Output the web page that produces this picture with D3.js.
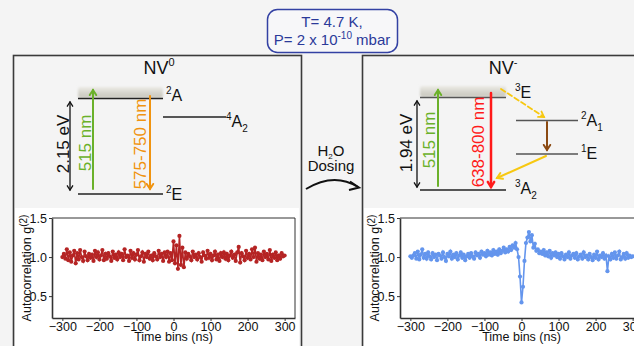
<!DOCTYPE html>
<html>
<head>
<meta charset="utf-8">
<script src="https://cdn.jsdelivr.net/npm/d3@7"></script>
<style>
  body { margin: 0; background: #f4f4f4; }
  svg { display: block; font-family: "Liberation Sans", Arial, sans-serif; }
</style>
</head>
<body>
<div id="chart"></div>
<script>
// time bins (ns)
const timeBins = d3.range(-300, 301, 4);

// NV0 autocorrelation (red)
const nv0Values = [
  1.00, 1.04, 0.98, 1.10, 0.96, 1.06, 0.94, 1.02, 1.08, 0.92,
  1.05, 0.97, 1.09, 1.00, 0.95, 1.07, 1.01, 0.96, 1.04, 0.99,
  1.03, 0.95, 1.08, 1.00, 1.06, 0.97, 1.02, 1.09, 0.96, 1.04,
  0.98, 1.05, 1.01, 0.95, 1.07, 0.99, 1.03, 0.97, 1.06, 1.00,
  1.04, 0.96, 1.10, 1.00, 1.02, 0.95, 1.08, 0.99, 1.05, 0.97,
  1.03, 1.09, 0.96, 1.01, 1.06, 0.94, 1.04, 1.00, 1.07, 0.98,
  1.02, 0.96, 1.05, 1.01, 0.97, 1.08, 1.00, 1.04, 0.95, 1.06,
  1.00, 1.07, 0.94, 1.05, 0.96, 1.20, 0.92, 1.15, 0.85, 1.27,
  0.90, 1.12, 0.87, 1.06, 0.98, 1.04, 1.01, 0.96, 1.07, 1.00,
  1.03, 0.97, 1.05, 1.00, 0.94, 1.06, 1.02, 0.98, 1.08, 0.99,
  1.04, 0.96, 1.02, 1.07, 0.97, 1.03, 0.95, 1.05, 1.00, 1.06,
  0.98, 1.04, 0.96, 1.02, 1.07, 0.99, 1.03, 0.95, 1.06, 1.13,
  0.93, 1.05, 1.01, 0.96, 1.08, 0.99, 1.04, 0.97, 1.10, 1.00,
  1.12, 0.94, 1.05, 0.98, 1.03, 0.96, 1.07, 1.00, 1.04, 0.97,
  1.09, 0.95, 1.03, 0.99, 1.06, 0.96, 1.02, 0.98, 1.05, 1.01,
  1.02
];

// NV- autocorrelation (blue)
const nvmValues = [
  1.01, 0.99, 1.02, 1.05, 0.98, 1.07, 0.97, 1.03, 1.10, 0.99,
  1.04, 0.98, 1.06, 1.01, 0.97, 1.05, 1.00, 1.03, 0.96, 1.04,
  1.02, 0.98, 1.06, 1.00, 0.95, 1.04, 1.01, 1.07, 0.98, 1.03,
  1.00, 1.05, 0.97, 1.02, 1.06, 0.99, 1.03, 0.96, 1.01, 1.04,
  0.99, 1.05, 1.01, 0.98, 1.06, 1.02, 1.04, 0.99, 1.07, 1.03,
  1.05, 1.01, 1.08, 1.03, 1.06, 1.02, 1.09, 1.04, 1.07, 1.03,
  1.10, 1.05, 1.08, 1.12, 1.06, 1.10, 1.07, 1.13, 1.09, 1.15,
  1.12, 1.18, 1.10, 1.00, 0.75, 0.42, 0.62, 0.95, 1.18, 1.25,
  1.32, 1.20, 1.28, 1.12, 1.17, 1.08, 1.10, 1.05, 1.07, 1.04,
  1.09, 1.02, 1.06, 1.01, 1.08, 0.99, 1.05, 1.02, 1.06, 1.00,
  1.04, 0.98, 1.05, 1.01, 0.97, 1.03, 1.00, 1.06, 0.98, 1.02,
  1.04, 0.99, 1.05, 0.97, 1.01, 1.03, 0.98, 1.06, 1.00, 1.02,
  0.97, 1.04, 1.00, 0.96, 1.03, 0.99, 1.07, 0.97, 1.02, 1.00,
  1.05, 0.98, 1.02, 0.82, 1.01, 0.97, 1.04, 0.99, 1.06, 0.98,
  1.02, 1.07, 0.97, 1.00, 1.04, 0.98, 1.05, 0.99, 1.02, 1.00,
  1.01
];

const xTicks = [-300, -200, -100, 0, 100, 200, 300];
const yTicks = [0.5, 1.0, 1.5];

const W = 634, H = 346;
const svg = d3.select('#chart').append('svg')
  .attr('width', W).attr('height', H);

svg.append('rect').attr('width', W).attr('height', H).attr('fill', '#f4f4f4');

const defs = svg.append('defs');
const grad = defs.append('linearGradient').attr('id', 'band')
  .attr('x1', 0).attr('y1', 0).attr('x2', 0).attr('y2', 1);
grad.append('stop').attr('offset', '0%').attr('stop-color', '#ecebe6');
grad.append('stop').attr('offset', '60%').attr('stop-color', '#d3d2ca');
grad.append('stop').attr('offset', '100%').attr('stop-color', '#c9c8bf');
defs.append('filter').attr('id', 'soft')
  .append('feGaussianBlur').attr('stdDeviation', 0.8);

// title box
svg.append('rect')
  .attr('x', 267.5).attr('y', 9.5).attr('width', 130).attr('height', 43)
  .attr('rx', 10)
  .attr('fill', '#f7f7f9').attr('stroke', '#3341a3').attr('stroke-width', 1.5);
svg.append('text').attr('x', 332).attr('y', 27).attr('text-anchor', 'middle')
  .attr('font-size', 15).attr('fill', '#2b3a99').text('T= 4.7 K,');
const pt = svg.append('text').attr('x', 332).attr('y', 45).attr('text-anchor', 'middle')
  .attr('font-size', 15).attr('fill', '#2b3a99');
pt.append('tspan').text('P= 2 x 10');
pt.append('tspan').attr('font-size', 10).attr('dy', -6).text('-10');
pt.append('tspan').attr('dy', 6).text(' mbar');

// panels
function panel(x0, w) {
  svg.append('rect').attr('x', x0 + 2).attr('y', 208).attr('width', w - 4).attr('height', 150)
    .attr('fill', '#ffffff');
  svg.append('rect').attr('x', x0 + 0.5).attr('y', 55.5).attr('width', w).attr('height', 310)
    .attr('fill', 'none').attr('stroke', '#3b3b3b').attr('stroke-width', 1.6);
}
panel(13, 288);
panel(362, 300);

// arrow helper
function arrow(x1, y1, x2, y2, color, width, opts = {}) {
  const g = svg.append('g').attr('stroke', color).attr('stroke-width', width)
    .attr('fill', 'none').attr('stroke-linecap', 'round');
  g.append('line').attr('x1', x1).attr('y1', y1).attr('x2', x2).attr('y2', y2)
    .attr('stroke-dasharray', opts.dash || null);
  const hl = opts.head || 6;
  const head = (hx, hy, ang) => {
    const a1 = ang + Math.PI * 0.82, a2 = ang - Math.PI * 0.82;
    g.append('path')
      .attr('d', `M${hx + hl * Math.cos(a1)},${hy + hl * Math.sin(a1)} L${hx},${hy} L${hx + hl * Math.cos(a2)},${hy + hl * Math.sin(a2)}`)
      .attr('stroke-linejoin', 'miter');
  };
  const ang = Math.atan2(y2 - y1, x2 - x1);
  head(x2, y2, ang);
  if (opts.both) head(x1, y1, ang + Math.PI);
}

function level(x1, x2, y, color) {
  svg.append('line').attr('x1', x1).attr('x2', x2).attr('y1', y).attr('y2', y)
    .attr('stroke', color || '#222').attr('stroke-width', 1.3);
}

function label(x, y, sup, main, sub) {
  const t = svg.append('text').attr('x', x).attr('y', y).attr('font-size', 16).attr('fill', '#111');
  if (sup) t.append('tspan').attr('font-size', 10).attr('dy', -7).text(sup);
  t.append('tspan').attr('dy', sup ? 7 : 0).text(main);
  if (sub) t.append('tspan').attr('font-size', 10).attr('dy', 5).text(sub);
}

function vtext(x, y, txt, color) {
  svg.append('text').attr('transform', `translate(${x},${y}) rotate(-90)`)
    .attr('text-anchor', 'middle').attr('font-size', 17).attr('fill', color).text(txt);
}

function title(x, y, main, sup) {
  const t = svg.append('text').attr('x', x).attr('y', y).attr('text-anchor', 'middle')
    .attr('font-size', 18).attr('fill', '#111');
  t.append('tspan').text(main);
  t.append('tspan').attr('font-size', 11).attr('dy', -8).text(sup);
}

// ---- NV0 diagram ----
title(159, 74, 'NV', '0');
svg.append('rect').attr('x', 78).attr('y', 87).attr('width', 85).attr('height', 11)
  .attr('rx', 2).attr('fill', 'url(#band)').attr('filter', 'url(#soft)');
level(78, 163, 98.5);
level(78, 163, 194);
level(163, 226, 117);
label(166, 101, '2', 'A');
label(226, 127, '4', 'A', '2');
label(166, 200, '2', 'E');
arrow(70, 102, 70, 190, '#111', 1.3, { both: true, head: 5 });
vtext(68.5, 144, '2.15 eV', '#111');
arrow(93, 189, 93, 90, '#6bb12a', 2, { head: 6 });
vtext(91, 143, '515 nm', '#6bb12a');
arrow(150, 96, 150, 189, '#f0930f', 2, { head: 6 });
vtext(145.5, 144, '575-750 nm', '#f0930f');

// ---- NV- diagram ----
title(503, 74, 'NV', '-');
svg.append('rect').attr('x', 420).attr('y', 86).attr('width', 86).attr('height', 11)
  .attr('rx', 2).attr('fill', 'url(#band)').attr('filter', 'url(#soft)');
level(420, 506, 97.5, '#555');
level(420, 506, 190, '#222');
level(516, 578, 120.5, '#555');
level(516, 578, 154, '#555');
label(515, 98, '3', 'E');
label(581, 126, '2', 'A', '1');
label(581, 159, '1', 'E');
label(515, 194, '3', 'A', '2');
arrow(417, 101, 417, 187, '#111', 1.3, { both: true, head: 5 });
vtext(411.5, 143, '1.94 eV', '#111');
arrow(438, 186, 438, 90, '#6bb12a', 2, { head: 6 });
vtext(435, 140, '515 nm', '#6bb12a');
arrow(491, 93, 491, 187, '#ff1a1a', 2.5, { head: 6 });
vtext(484, 142, '638-800 nm', '#ff1a1a');
arrow(501, 89, 544, 117, '#f7c811', 1.8, { dash: '5,3', head: 6 });
arrow(547, 122, 547, 150, '#8b4a12', 2, { head: 6 });
arrow(546, 156, 497, 178, '#f7c811', 2, { head: 6 });

// ---- H2O dosing ----
const h2o = svg.append('text').attr('x', 331).attr('y', 156).attr('text-anchor', 'middle')
  .attr('font-size', 15).attr('fill', '#111');
h2o.append('tspan').text('H');
h2o.append('tspan').attr('font-size', 8).attr('dy', 3).text('2');
h2o.append('tspan').attr('dy', -3).text('O');
svg.append('text').attr('x', 331).attr('y', 171).attr('text-anchor', 'middle')
  .attr('font-size', 15).attr('fill', '#111').text('Dosing');
svg.append('path').attr('d', 'M306,189 Q334,172 358,187')
  .attr('fill', 'none').attr('stroke', '#111').attr('stroke-width', 2);
svg.append('path').attr('d', 'M350,181.5 L359,187.5 L349,190')
  .attr('fill', 'none').attr('stroke', '#111').attr('stroke-width', 2).attr('stroke-linejoin', 'miter');

// ---- g2 plots ----
function g2plot(left, values, color) {
  const top = 218, bottom = 318, width = 243;
  const x = d3.scaleLinear().domain([-328, 328]).range([left, left + width]);
  const y = d3.scaleLinear().domain([0.22, 1.5]).range([bottom, top]);
  const pts = timeBins.map((t, i) => ({ t, v: values[i] }));

  const g = svg.append('g');
  // frame top / right
  g.append('path').attr('d', `M${left},${top} H${left + width} V${bottom}`)
    .attr('fill', 'none').attr('stroke', '#333').attr('stroke-width', 1);

  const xa = g.append('g').attr('transform', `translate(0,${bottom})`)
    .call(d3.axisBottom(x).tickValues(xTicks).tickSize(3).tickPadding(1).tickSizeOuter(0));
  const ya = g.append('g').attr('transform', `translate(${left},0)`)
    .call(d3.axisLeft(y).tickValues(yTicks).tickFormat(d3.format('.1f')).tickSize(3).tickSizeOuter(0));
  [xa, ya].forEach(a => {
    a.select('.domain').attr('stroke', '#333').attr('stroke-width', 1.6);
    a.selectAll('.tick line').attr('stroke', '#333');
    a.selectAll('.tick text').attr('font-size', 12.5).attr('fill', '#111')
      .attr('font-family', '"Liberation Sans", Arial, sans-serif');
  });
  xa.selectAll('.tick text').attr('dy', '0.7em');
  ya.selectAll('.tick text').attr('dx', '1px');

  const line = d3.line().x(d => x(d.t)).y(d => y(d.v));
  g.append('path').datum(pts).attr('d', line)
    .attr('fill', 'none').attr('stroke', color).attr('stroke-width', 1.6);
  g.selectAll('circle.pt').data(pts).enter().append('circle')
    .attr('class', 'pt').attr('cx', d => x(d.t)).attr('cy', d => y(d.v))
    .attr('r', 2.1).attr('fill', color);

  const yl = g.append('text')
    .attr('transform', `translate(${left - 21},268) rotate(-90)`)
    .attr('text-anchor', 'middle').attr('font-size', 12.5).attr('fill', '#111');
  yl.append('tspan').text('Autocorrelation g');
  yl.append('tspan').attr('font-size', 10).attr('dy', -4).text('(2)');
  g.append('text').attr('x', x(0)).attr('y', 341).attr('text-anchor', 'middle')
    .attr('font-size', 12.5).attr('fill', '#111').text('Time bins (ns)');
}

g2plot(52, nv0Values, '#b52424');
g2plot(400, nvmValues, '#6495ed');
</script>
</body>
</html>
